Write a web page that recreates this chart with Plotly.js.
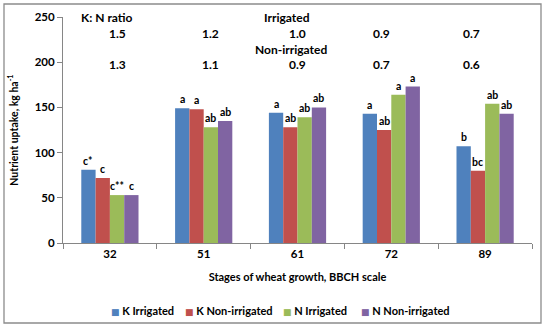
<!DOCTYPE html>
<html>
<head>
<meta charset="utf-8">
<script src="https://cdn.plot.ly/plotly-3.0.1.min.js"></script>
<style>html,body{margin:0;padding:0;background:#fff;}#chart{width:550px;height:330px;}</style>
</head>
<body>
<div id="chart"></div>
<script>
// ---- data ----
const categories = ['32', '51', '61', '72', '89'];
const seriesNames = ['K Irrigated', 'K Non-irrigated', 'N Irrigated', 'N Non-irrigated'];
const kIrrigated = [81, 149, 144, 143, 107];
const kNonIrrigated = [72, 148, 128, 125, 80];
const nIrrigated = [53, 128, 139, 164, 154];
const nNonIrrigated = [53, 135, 150, 173, 143];
const kIrrLetters = ['c*', 'a', 'a', 'a', 'b'];
const kNonLetters = ['c', 'a', 'ab', 'ab', 'bc'];
const nIrrLetters = ['c**', 'ab', 'ab', 'a', 'ab'];
const nNonLetters = ['c', 'ab', 'ab', 'a', 'ab'];
const ratioIrrigated = ['1.5', '1.2', '1.0', '0.9', '0.7'];
const ratioNonIrrigated = ['1.3', '1.1', '0.9', '0.7', '0.6'];
const yTicks = [0, 50, 100, 150, 200, 250];

// ---- style ----
const colors = ['#4F81BD', '#C0504D', '#9BBB59', '#8064A2'];
const FONT = 'Lato, "Open Sans", "DejaVu Sans", sans-serif';
const bargap = 0.39;
const barW = (1 - bargap) / 4;
const offsets = [-1.5 * barW, -0.5 * barW, 0.5 * barW, 1.5 * barW];
const ratioXShift = [0.076, 0.07, 0.0, -0.1, -0.14];

const values = [kIrrigated, kNonIrrigated, nIrrigated, nNonIrrigated];
const letters = [kIrrLetters, kNonLetters, nIrrLetters, nNonLetters];

const traces = values.map((v, i) => ({
  type: 'bar', name: seriesNames[i], x: categories, y: v,
  marker: {color: colors[i]}, showlegend: false, hoverinfo: 'skip'
}));

const ann = [];
const fontBold = (s) => ({family: FONT, size: s, color: '#000', weight: 'bold'});
values.forEach((v, i) => {
  v.forEach((val, j) => {
    ann.push({x: j + offsets[i], y: val, xref: 'x', yref: 'y', text: letters[i][j],
      showarrow: false, yanchor: 'bottom', yshift: 1, font: fontBold(10.5)});
  });
});
ratioIrrigated.forEach((t, j) => {
  ann.push({x: j + ratioXShift[j], y: 232, xref: 'x', yref: 'y', text: t, showarrow: false,
    yanchor: 'middle', font: fontBold(12)});
});
ratioNonIrrigated.forEach((t, j) => {
  ann.push({x: j + ratioXShift[j], y: 198, xref: 'x', yref: 'y', text: t, showarrow: false,
    yanchor: 'middle', font: fontBold(12)});
});
ann.push({x: -0.03, y: 249, xref: 'x', yref: 'y', text: 'K: N ratio', showarrow: false, yanchor: 'middle', font: fontBold(12)});
ann.push({x: 1.89, y: 249, xref: 'x', yref: 'y', text: 'Irrigated', showarrow: false, yanchor: 'middle', font: fontBold(12)});
ann.push({x: 1.93, y: 214.5, xref: 'x', yref: 'y', text: 'Non-irrigated', showarrow: false, yanchor: 'middle', font: fontBold(12)});

// legend built as text items
const L = 63, PW = 469, B = 243, PH = 226;
const legendPx = [109, 183, 281, 359];
seriesNames.forEach((n, i) => {
  ann.push({x: (legendPx[i] - L) / PW, y: (B - 310) / PH, xref: 'paper', yref: 'paper',
    xanchor: 'left', yanchor: 'middle', showarrow: false,
    text: '<span style="color:' + colors[i] + ';font-size:9px">■</span> ' + n,
    font: fontBold(11)});
});

const layout = {
  width: 550, height: 330,
  margin: {l: L, r: 550 - L - PW, t: B - PH, b: 330 - B, autoexpand: false},
  paper_bgcolor: '#fff', plot_bgcolor: '#fff',
  barmode: 'group', bargap: bargap, bargroupgap: 0,
  font: {family: FONT, size: 11, color: '#000'},
  xaxis: {
    type: 'category', showgrid: false, zeroline: false, automargin: false,
    showline: true, linecolor: '#868686', linewidth: 1,
    ticks: 'outside', tickson: 'boundaries', ticklen: 5, tickcolor: '#868686',
    tickfont: fontBold(11.5),
    title: {text: 'Stages of wheat growth, BBCH scale', font: fontBold(11), standoff: 14}
  },
  yaxis: {
    range: [0, 250], tickvals: yTicks, showgrid: false, zeroline: false, automargin: false,
    showline: true, linecolor: '#868686', linewidth: 1,
    ticks: 'outside', ticklen: 5, tickcolor: '#868686',
    tickfont: fontBold(11.5),
    title: {text: 'Nutrient uptake, kg ha<sup>-1</sup>', font: fontBold(10.5), standoff: 14}
  },
  annotations: ann,
  shapes: [{type: 'rect', xref: 'paper', yref: 'paper',
    x0: (4 - L) / PW, x1: (541 - L) / PW, y0: (B - 323) / PH, y1: (B - 4) / PH,
    line: {color: '#8c8c8c', width: 1.3}, fillcolor: 'rgba(0,0,0,0)', layer: 'below'}],
  showlegend: false
};

Plotly.newPlot('chart', traces, layout, {displayModeBar: false, staticPlot: true});
</script>
</body>
</html>
